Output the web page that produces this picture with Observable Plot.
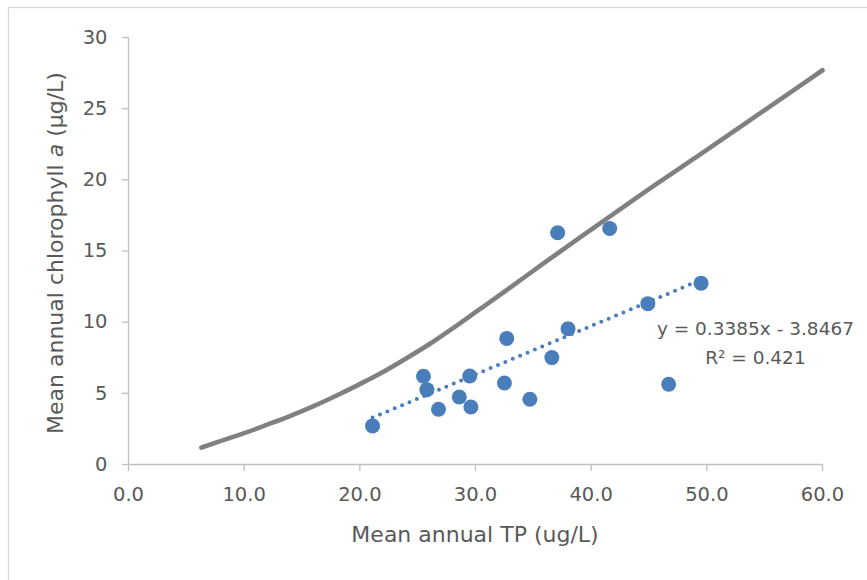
<!DOCTYPE html>
<html>
<head>
<meta charset="utf-8">
<script src="https://cdn.jsdelivr.net/npm/d3@7"></script>
<script src="https://cdn.jsdelivr.net/npm/@observablehq/plot@0.6"></script>
<style>
  html, body { margin: 0; padding: 0; background: white; overflow: hidden; }
  #chart svg { display: block; }
</style>
</head>
<body>
<div id="chart"></div>
<script>
// Observed lakes: mean annual TP (ug/L) vs mean annual chlorophyll a (ug/L)
const tp   = [21.1, 25.5, 25.8, 26.8, 28.6, 29.5, 29.6, 32.5, 32.7, 34.7, 36.6, 37.1, 38.0, 41.6, 44.9, 46.7, 49.5];
const chla = [2.71, 6.20, 5.26, 3.88, 4.74, 6.22, 4.04, 5.73, 8.86, 4.58, 7.51, 16.28, 9.54, 16.58, 11.30, 5.64, 12.74];

// Reference (gray) curve
const curveTP   = [6.3, 8, 10, 12, 14, 16, 18, 20, 22, 24, 26, 28, 30, 32.6, 36, 40, 45, 50, 55, 60];
const curveChla = [1.19, 1.66, 2.2, 2.8, 3.42, 4.1, 4.85, 5.65, 6.5, 7.45, 8.45, 9.55, 10.7, 12.2, 14.2, 16.5, 19.35, 22.1, 24.9, 27.7];

// Axis ticks
const xTicks = [0, 10, 20, 30, 40, 50, 60];
const yTicks = [0, 5, 10, 15, 20, 25, 30];

// Texts
const xTitle = "Mean annual TP (ug/L)";
const yTitleParts = ["Mean annual chlorophyll ", "a", " (\u00b5g/L)"];
const eqLines = ["y = 0.3385x - 3.8467\nR\u00b2 = 0.421"];
const eqX = [54.2];
const eqY = [7.04];

const points = tp.map((x, i) => ({x, y: chla[i]}));
const curve = curveTP.map((x, i) => ({x, y: curveChla[i]}));
const eq = eqLines.map((t, i) => ({t, x: eqX[i], y: eqY[i]}));

const blue = "#4a7ebb";
const axisGray = "#c0c0c0";
const textGray = "#595959";
const font = "'DejaVu Sans', sans-serif";

const plot = Plot.plot({
  width: 867,
  height: 580,
  marginLeft: 128,
  marginRight: 45,
  marginTop: 37,
  marginBottom: 116,
  x: {domain: [0, 60]},
  y: {domain: [0, 30]},
  style: {fontFamily: font, fontSize: "19.5px", color: textGray, background: "white"},
  marks: [
    Plot.ruleX([0], {stroke: axisGray, strokeWidth: 1.3}),
    Plot.ruleY([0], {stroke: axisGray, strokeWidth: 1.3}),
    Plot.axisX({ticks: xTicks, tickSize: 7, tickPadding: 16, tickFormat: d => d.toFixed(1), stroke: axisGray, strokeWidth: 1.3, fill: textGray, fontSize: 19.5, label: null}),
    Plot.axisY({ticks: yTicks, tickSize: 6, tickPadding: 15, tickFormat: d => String(d), stroke: axisGray, strokeWidth: 1.3, fill: textGray, fontSize: 19.5, label: null}),
    Plot.line(curve, {x: "x", y: "y", stroke: "#808080", strokeWidth: 4.6, curve: "monotone-x", strokeLinecap: "round"}),
    Plot.linearRegressionY(points, {x: "x", y: "y", ci: 0, stroke: blue, strokeWidth: 4, strokeDasharray: "0 8", strokeLinecap: "round"}),
    Plot.dot(points, {x: "x", y: "y", r: 7.5, fill: blue}),
    Plot.text(eq, {x: "x", y: "y", text: "t", lineAnchor: "bottom", textAnchor: "middle", lineHeight: 1.57, fill: textGray, fontSize: 18.5})
  ]
});

document.getElementById("chart").appendChild(plot);

const svg = d3.select(plot);
// chart-area frame
svg.append("rect")
  .attr("x", 8.5).attr("y", 7.5).attr("width", 2000).attr("height", 2000)
  .attr("fill", "none").attr("stroke", "#d9d9d9").attr("stroke-width", 1.3);

// axis titles
svg.append("text")
  .attr("x", 475).attr("y", 542)
  .attr("text-anchor", "middle")
  .attr("fill", textGray)
  .style("font-family", font)
  .style("font-size", "22px")
  .text(xTitle);

const yt = svg.append("text")
  .attr("transform", "translate(63,253) rotate(-90)")
  .attr("text-anchor", "middle")
  .attr("fill", textGray)
  .style("font-family", font)
  .style("font-size", "22px");
yt.append("tspan").text(yTitleParts[0]);
yt.append("tspan").style("font-style", "italic").text(yTitleParts[1]);
yt.append("tspan").text(yTitleParts[2]);
</script>
</body>
</html>
